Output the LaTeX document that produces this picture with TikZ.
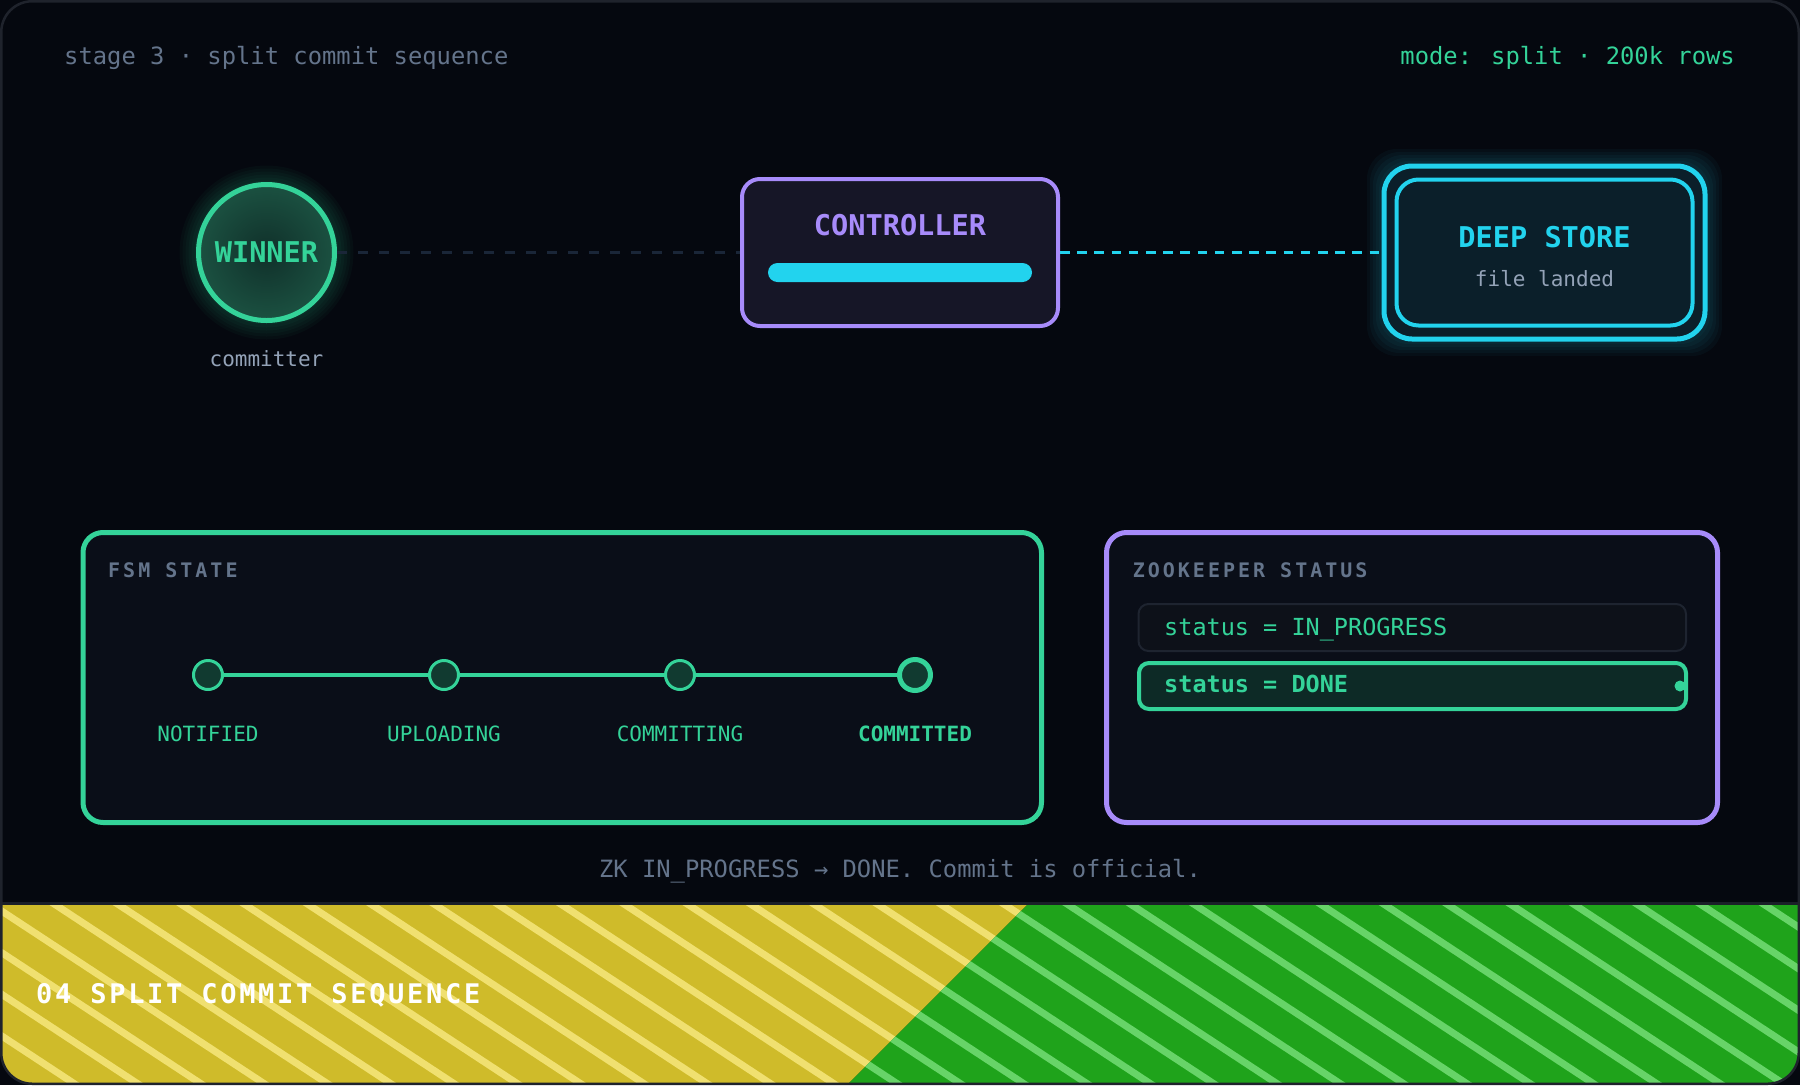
\documentclass[tikz,border=0pt]{standalone}
\usepackage{fontspec}
\setmainfont{DejaVu Sans Mono}
\newfontfamily\capsfont[LetterSpace=15]{DejaVu Sans Mono}
\newfontfamily\bannerfont[LetterSpace=10]{DejaVu Sans Mono}
\usepackage{tikz}
\usetikzlibrary{positioning}
\newcommand{\fsz}[1]{\fontsize{#1}{#1}\selectfont}
\definecolor{bg}{HTML}{05080F}
\definecolor{framecol}{HTML}{1F232C}
\definecolor{grn}{HTML}{34D399}
\definecolor{vio}{HTML}{A78BFA}
\definecolor{cyn}{HTML}{22D3EE}
\definecolor{slate}{HTML}{64748B}
\definecolor{soft}{HTML}{94A3B8}
\definecolor{panelbg}{HTML}{0A0E18}
\definecolor{ctlbg}{HTML}{161627}
\definecolor{dsbg}{HTML}{0B1F2A}
\definecolor{wincore}{HTML}{10302A}
\definecolor{winedge}{HTML}{1B5141}
\definecolor{dotbg}{HTML}{113A30}
\definecolor{rowbg}{HTML}{0D1119}
\definecolor{rowline}{HTML}{1E2430}
\definecolor{donebg}{HTML}{0D2A26}
\definecolor{linkdk}{HTML}{1A2638}
\definecolor{bandyel}{HTML}{CFBB2A}
\definecolor{bandyelhi}{HTML}{F0E070}
\definecolor{bandgrn}{HTML}{1FA31B}
\definecolor{bandgrnhi}{HTML}{67D468}
\definecolor{rulecol}{HTML}{1A1F28}

\begin{document}
\begin{tikzpicture}[x=1pt,y=-1pt,
  every node/.style={inner sep=0pt},
  hdr/.style={font=\fsz{23.8}},
  box/.style={rectangle},
  panel/.style={rectangle, rounded corners=20pt, fill=panelbg, line width=5pt, minimum height=290pt},
  paneltitle/.style={font=\capsfont\bfseries\fsz{20}, text=slate},
  fsmdot/.style={circle, draw=grn, fill=dotbg, line width=3pt, minimum size=29pt},
  statelbl/.style={font=\fsz{21}, text=grn},
  row/.style={rectangle, rounded corners=10pt, minimum width=547pt, minimum height=46pt},
  rowtxt/.style={font=\fsz{23.5}, text=grn},
  track/.style={draw=grn, line width=4pt},
  linkdark/.style={draw=linkdk, line width=3pt, dash pattern=on 10pt off 11pt},
  linkcyan/.style={draw=cyn, line width=3pt, dash pattern=on 9.5pt off 7.7pt}]
\tikzset{bannertxt/.style={font=\bannerfont\bfseries\fsz{27}, text=white},
  stripe/.style={line width=7pt}}
\useasboundingbox (0,0) rectangle (1800,1085);
\fill[bg] (0,0) rectangle (1800,1085);

\node[hdr, anchor=base west, text=slate] (stage) at (64,64) {stage 3 · split commit sequence};
\node[hdr, anchor=base east, text=grn] (mode) at (1735,64) {mode: split · 200k rows};

\foreach \r in {72,75,...,87} \fill[grn, opacity=.035] (266.5,252.5) circle (\r pt);
\foreach \g in {2,5,...,14} \fill[cyn, opacity=.04, rounded corners=30pt] ({1381-\g},{163-\g}) rectangle ({1708+\g},{342+\g});

\node[circle, draw=grn, line width=5pt, minimum size=136pt, inner color=wincore, outer color=winedge, text=grn, font=\bfseries\fsz{28.6}] (win) at (266.5,252.5) {WINNER};
\node[below=27pt of win, text=soft, font=\fsz{21}] (role) {committer};

\node[box, draw=vio, fill=ctlbg, line width=4pt, rounded corners=18pt, minimum width=316pt, minimum height=147pt] (ctl) at (900,252.5) {};
\node[font=\bfseries\fsz{28.6}, text=vio] (ctltitle) at (900,225.5) {CONTROLLER};
\node[box, fill=cyn, rounded corners=9.5pt, minimum width=264pt, minimum height=19pt] (bar) at (900,272.5) {};

\node[box, draw=cyn, fill=dsbg, line width=5pt, rounded corners=28pt, minimum width=321pt, minimum height=173pt] (ds) at (1544.5,252.5) {};
\node[box, draw=cyn, line width=4pt, rounded corners=22pt, minimum width=296pt, minimum height=146pt] (dsin) at (ds.center) {};
\node[font=\bfseries\fsz{28.6}, text=cyn] (dstitle) at (1544.5,237) {DEEP STORE};
\node[font=\fsz{21}, text=soft] (dsnote) at (1544.5,279) {file landed};

\path (win) edge[linkdark] (ctl)
      (ctl) edge[linkcyan] (ds);

\node[panel, draw=grn, minimum width=958.5pt] (fsm) at (562.25,677.5) {};
\node[paneltitle, anchor=base west] (fsmtitle) at (108,577) {FSM STATE};
\node[fsmdot] (s0) at (208,675) {};
\node[fsmdot] (s1) at (444,675) {};
\node[fsmdot] (s2) at (680,675) {};
\node[fsmdot, line width=5pt, minimum size=31pt] (s3) at (915,675) {};
\path (s0) edge[track] (s1)
      (s1) edge[track] (s2)
      (s2) edge[track] (s3);
\node[statelbl, below=35pt of s0] (l0) {NOTIFIED};
\node[statelbl, below=35pt of s1] (l1) {UPLOADING};
\node[statelbl, below=35pt of s2] (l2) {COMMITTING};
\node[statelbl, font=\bfseries\fsz{21}, below=33pt of s3] (l3) {COMMITTED};

\node[panel, draw=vio, minimum width=611pt] (zk) at (1412,677.5) {};
\node[paneltitle, anchor=base west] (zktitle) at (1132.6,577) {ZOOKEEPER STATUS};
\node[row, draw=rowline, fill=rowbg, line width=2pt, minimum width=547.5pt, minimum height=47pt] (r0) at (1412.25,627.5) {};
\node[row, draw=grn, fill=donebg, line width=4pt] (r1) at (1412.5,686) {};
\node[rowtxt, anchor=base west] (r0txt) at (1164,635) {status = IN\_PROGRESS};
\node[rowtxt, anchor=base west, font=\bfseries\fsz{23.5}] (r1txt) at (1164,692) {status = DONE};
\node[circle, fill=grn, minimum size=11pt] (live) at (1680,686) {};

\node[hdr, anchor=base, text=slate] (note) at (900,877) {ZK IN\_PROGRESS → DONE. Commit is official.};

\begin{scope}
  \clip[rounded corners=30pt] (1.5,1.5) rectangle (1798.5,1083.5);
  \begin{scope}
    \clip (0,904) -- (1028,904) -- (847,1085) -- (0,1085) -- cycle;
    \fill[bandyel] (0,880) rectangle (1800,1085);
    \foreach \k in {-9,...,25} \draw[stripe, bandyelhi] ({1235.7-63.3*\k},890) -- ++(330,217);
  \end{scope}
  \begin{scope}
    \clip (1028,904) -- (1800,904) -- (1800,1085) -- (847,1085) -- cycle;
    \fill[bandgrn] (0,880) rectangle (1800,1085);
    \foreach \k in {-9,...,25} \draw[stripe, bandgrnhi] ({1235.7-63.3*\k},890) -- ++(330,217);
  \end{scope}
  \draw[rulecol, line width=3pt] (0,903) -- (1800,903);
\end{scope}
\node[bannertxt, anchor=base west] (banner) at (36,1003) {04 SPLIT COMMIT SEQUENCE};

\draw[framecol, line width=2.5pt, rounded corners=31pt] (1.25,1.25) rectangle (1798.75,1083.75);
\end{tikzpicture}
\end{document}
